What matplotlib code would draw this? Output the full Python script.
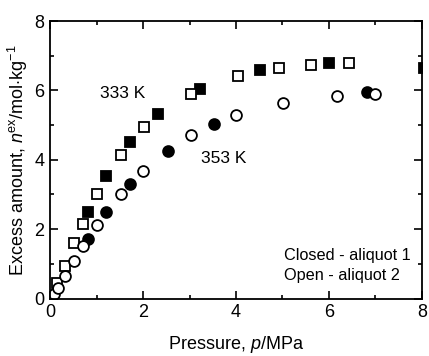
import matplotlib
matplotlib.use("Agg")
import matplotlib.pyplot as plt
from matplotlib.ticker import MultipleLocator

plt.rcParams['font.family'] = ['Liberation Sans', 'DejaVu Sans']
plt.rcParams['mathtext.fontset'] = 'custom'
plt.rcParams['mathtext.it'] = 'Liberation Sans:italic'
plt.rcParams['mathtext.rm'] = 'Liberation Sans'

# 333 K, closed - aliquot 1
p_333_closed = [0.81, 1.21, 1.73, 2.32, 3.23, 4.51, 6.01, 8.04]
n_333_closed = [2.48, 3.53, 4.51, 5.31, 6.04, 6.59, 6.80, 6.65]
# 333 K, open - aliquot 2
p_333_open = [0.16, 0.32, 0.52, 0.71, 1.02, 1.52, 2.02, 3.03, 4.04, 4.92, 5.61, 6.42]
n_333_open = [0.45, 0.93, 1.59, 2.14, 3.02, 4.14, 4.95, 5.90, 6.42, 6.65, 6.74, 6.78]
# 353 K, closed - aliquot 1
p_353_closed = [0.82, 1.21, 1.71, 2.54, 3.53, 6.82]
n_353_closed = [1.72, 2.50, 3.31, 4.26, 5.04, 5.96]
# 353 K, open - aliquot 2
p_353_open = [0.09, 0.17, 0.33, 0.52, 0.72, 1.02, 1.52, 2.00, 3.03, 3.99, 5.01, 6.18, 6.99]
n_353_open = [0.13, 0.31, 0.65, 1.08, 1.52, 2.12, 3.00, 3.69, 4.70, 5.28, 5.64, 5.85, 5.91]

fig = plt.figure(figsize=(4.29, 3.56), dpi=100)
ax = fig.add_axes([0.1166, 0.1615, 0.867, 0.7795])

ms = 7.2
ax.plot(p_333_closed, n_333_closed, 's', color='black', ms=ms, mew=1.3)
ax.plot(p_333_open, n_333_open, 's', mfc='white', mec='black', ms=ms, mew=1.3)
ax.plot(p_353_closed, n_353_closed, 'o', color='black', ms=ms + 0.6, mew=1.3)
ax.plot(p_353_open, n_353_open, 'o', mfc='white', mec='black', ms=ms + 0.6, mew=1.3)

ax.set_xlim(0, 8)
ax.set_ylim(0, 8)
ax.xaxis.set_major_locator(MultipleLocator(2))
ax.xaxis.set_minor_locator(MultipleLocator(1))
ax.yaxis.set_major_locator(MultipleLocator(2))
ax.yaxis.set_minor_locator(MultipleLocator(1))
ax.tick_params(which='both', direction='in', top=True, right=True, width=1.2)
ax.tick_params(which='major', length=6, labelsize=13, pad=4)
ax.tick_params(which='minor', length=3)
for s in ax.spines.values():
    s.set_linewidth(1.3)

ax.set_xlabel('Pressure, $\\mathit{p}$/MPa', fontsize=13, labelpad=9)
ax.set_ylabel('Excess amount, $\\mathit{n}^{\\mathrm{ex}}$/mol$\\cdot$kg$^{-1}$',
              fontsize=13, labelpad=3)

ax.text(1.57, 5.9, '333 K', fontsize=12.5, ha='center', va='center')
ax.text(3.74, 4.03, '353 K', fontsize=12.5, ha='center', va='center')
ax.text(5.03, 1.23, 'Closed - aliquot 1', fontsize=11.7, ha='left', va='center')
ax.text(5.03, 0.65, 'Open - aliquot 2', fontsize=11.7, ha='left', va='center')

fig.savefig('out.png', dpi=100)
